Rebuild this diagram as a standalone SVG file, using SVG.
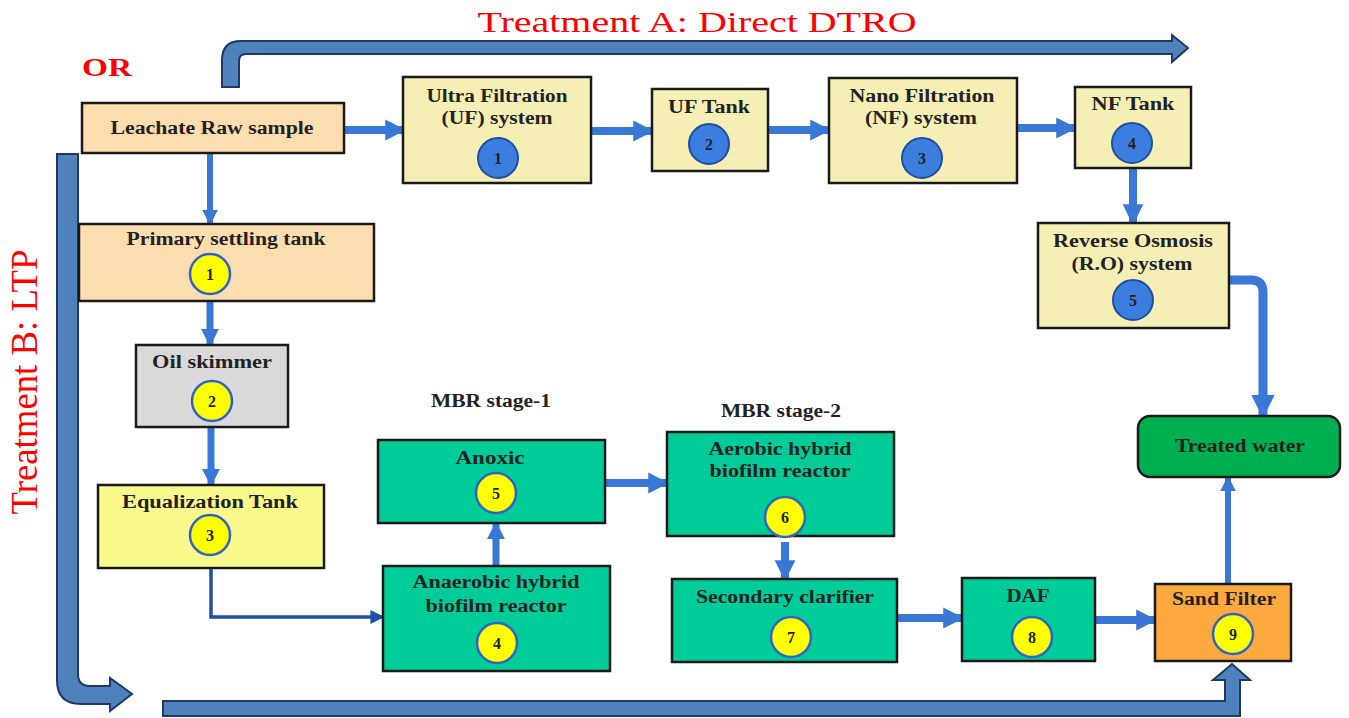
<svg xmlns="http://www.w3.org/2000/svg" width="1349" height="718" viewBox="0 0 1349 718">
<defs>
<style>
.box{stroke:#1a1a1a;stroke-width:2.5}
.peach{fill:#FCDDB0}
.cream{fill:#F5EFB6}
.grey{fill:#D9D9D9}
.yel{fill:#F9F98C}
.teal{fill:#00CC99}
.orange{fill:#FDA93E}
.tw{fill:#00B050}
.lbl{font-family:"Liberation Serif",serif;font-weight:bold;font-size:18.5px;fill:#222;text-anchor:middle}
.num{font-family:"Liberation Serif",serif;font-weight:bold;font-size:16px;fill:#222;text-anchor:middle}
.cb{fill:#3C7DE0;stroke:#1F4E9A;stroke-width:2}
.cy{fill:#FFFF00;stroke:#2F63C8;stroke-width:2.5}
.red{font-family:"Liberation Serif",serif;fill:#FF0000}
.flow{stroke:#3A78D8;fill:none}
.big{fill:#4F81BD;stroke:#1F3864;stroke-width:2;stroke-linejoin:miter}
</style>
<marker id="ah" viewBox="0 0 10 10" refX="9" refY="5" markerWidth="2.6" markerHeight="3.2" orient="auto" markerUnits="strokeWidth">
<path d="M0,0 L10,5 L0,10 z" fill="#3A78D8"/>
</marker>
<marker id="ah2" viewBox="0 0 10 10" refX="9" refY="5" markerWidth="4" markerHeight="4" orient="auto" markerUnits="strokeWidth">
<path d="M0,0 L10,5 L0,10 z" fill="#1F4FA8"/>
</marker>
</defs>
<rect width="1349" height="718" fill="#fff"/>

<text class="red" x="697" y="32" font-size="30" text-anchor="middle" textLength="439" lengthAdjust="spacingAndGlyphs">Treatment  A: Direct DTRO</text>
<text class="red" x="107" y="76" font-size="25" font-weight="bold" text-anchor="middle" textLength="50" lengthAdjust="spacingAndGlyphs">OR</text>
<text class="red" x="0" y="0" font-size="37" text-anchor="middle" textLength="265" lengthAdjust="spacingAndGlyphs" transform="translate(37,382) rotate(-90)">Treatment B: LTP</text>
<text class="lbl" x="491" y="407" font-size="17" textLength="120" lengthAdjust="spacingAndGlyphs">MBR stage-1</text>
<text class="lbl" x="781" y="417" font-size="17" textLength="120" lengthAdjust="spacingAndGlyphs">MBR stage-2</text>

<g id="connectors">
<path class="big" d="M222,87 L222,60 Q222,41 241,41 L1172,41 L1172,35 L1188,48 L1172,62 L1172,54 L246,54 Q239,54 239,61 L239,87 Z"/>
<path class="big" d="M57,154 L57,680 Q57,704 81,704 L110,704 L110,711 L132,694 L110,678 L110,686 L90,686 Q78,686 78,674 L78,154 Z"/>
<path class="big" d="M163,701 L1225,701 L1225,680 L1213,680 L1232,664 L1250,680 L1240,680 L1240,716 L163,716 Z"/>

<path class="flow" stroke-width="8" marker-end="url(#ah)" d="M344,130 L404,130"/>
<path class="flow" stroke-width="8" marker-end="url(#ah)" d="M591,131 L652,131"/>
<path class="flow" stroke-width="8" marker-end="url(#ah)" d="M768,130 L829,130"/>
<path class="flow" stroke-width="8" marker-end="url(#ah)" d="M1017,128 L1075,128"/>
<path class="flow" stroke-width="8" marker-end="url(#ah)" d="M1133,168 L1133,223"/>
<path class="flow" stroke-width="9" marker-end="url(#ah)" d="M1229,280 L1251,280 Q1263,280 1263,292 L1263,416"/>
<path class="flow" stroke-width="6" marker-end="url(#ah)" d="M210,153 L210,224"/>
<path class="flow" stroke-width="7" marker-end="url(#ah)" d="M210,301 L210,345"/>
<path class="flow" stroke-width="7" marker-end="url(#ah)" d="M211,427 L211,485"/>
<path d="M211,568 L211,617 L383,617" fill="none" stroke="#1F4FA8" stroke-width="3.5" marker-end="url(#ah2)"/>
<path class="flow" stroke-width="7" marker-end="url(#ah)" d="M496,566 L496,523"/>
<path class="flow" stroke-width="8" marker-end="url(#ah)" d="M605,483 L667,483"/>
<path class="flow" stroke-width="8" marker-end="url(#ah)" d="M785,542 L785,579"/>
<path class="flow" stroke-width="8" marker-end="url(#ah)" d="M897,618 L962,618"/>
<path class="flow" stroke-width="8" marker-end="url(#ah)" d="M1095,620 L1155,620"/>
<path class="flow" stroke-width="6" marker-end="url(#ah)" d="M1228,584 L1228,477"/>
</g>

<g id="n-leachate">
<rect class="box peach" x="82" y="103" width="262" height="50"/>
<text class="lbl" x="212" y="134" textLength="203" lengthAdjust="spacingAndGlyphs">Leachate Raw sample</text>
</g>
<g id="n-uf">
<rect class="box cream" x="403" y="77" width="188" height="106"/>
<text class="lbl" x="497" y="102" textLength="141" lengthAdjust="spacingAndGlyphs">Ultra Filtration</text>
<text class="lbl" x="497" y="124" textLength="111" lengthAdjust="spacingAndGlyphs">(UF) system</text>
<circle class="cb" cx="498" cy="158" r="20"/><text class="num" x="498" y="164">1</text>
</g>
<g id="n-uftank">
<rect class="box cream" x="652" y="89" width="116" height="82"/>
<text class="lbl" x="709" y="113" textLength="82" lengthAdjust="spacingAndGlyphs">UF Tank</text>
<circle class="cb" cx="709" cy="144" r="20"/><text class="num" x="709" y="150">2</text>
</g>
<g id="n-nf">
<rect class="box cream" x="829" y="78" width="188" height="105"/>
<text class="lbl" x="922" y="102" textLength="145" lengthAdjust="spacingAndGlyphs">Nano Filtration</text>
<text class="lbl" x="921" y="124" textLength="112" lengthAdjust="spacingAndGlyphs">(NF) system</text>
<circle class="cb" cx="922" cy="158" r="20"/><text class="num" x="922" y="164">3</text>
</g>
<g id="n-nftank">
<rect class="box cream" x="1075" y="87" width="116" height="81"/>
<text class="lbl" x="1133" y="110" textLength="83" lengthAdjust="spacingAndGlyphs">NF Tank</text>
<circle class="cb" cx="1132" cy="143" r="20"/><text class="num" x="1132" y="149">4</text>
</g>
<g id="n-ro">
<rect class="box cream" x="1038" y="223" width="191" height="105"/>
<text class="lbl" x="1133" y="247" textLength="160" lengthAdjust="spacingAndGlyphs">Reverse Osmosis</text>
<text class="lbl" x="1132" y="270" textLength="121" lengthAdjust="spacingAndGlyphs">(R.O) system</text>
<circle class="cb" cx="1133" cy="300" r="20"/><text class="num" x="1133" y="306">5</text>
</g>
<g id="n-treated">
<rect class="box tw" x="1138" y="416" width="202" height="61" rx="12"/>
<text class="lbl" x="1240" y="452" textLength="130" lengthAdjust="spacingAndGlyphs">Treated water</text>
</g>
<g id="n-primary">
<rect class="box peach" x="79" y="224" width="295" height="77"/>
<text class="lbl" x="226" y="245" textLength="199" lengthAdjust="spacingAndGlyphs">Primary settling tank</text>
<circle class="cy" cx="210" cy="274" r="20"/><text class="num" x="210" y="280">1</text>
</g>
<g id="n-oil">
<rect class="box grey" x="136" y="345" width="152" height="82"/>
<text class="lbl" x="212" y="368" textLength="120" lengthAdjust="spacingAndGlyphs">Oil skimmer</text>
<circle class="cy" cx="212" cy="401" r="20"/><text class="num" x="212" y="407">2</text>
</g>
<g id="n-eq">
<rect class="box yel" x="98" y="485" width="226" height="83"/>
<text class="lbl" x="210" y="508" textLength="176" lengthAdjust="spacingAndGlyphs">Equalization Tank</text>
<circle class="cy" cx="210" cy="535" r="20"/><text class="num" x="210" y="541">3</text>
</g>
<g id="n-anaerobic">
<rect class="box teal" x="383" y="566" width="227" height="105"/>
<text class="lbl" x="496" y="588" textLength="167" lengthAdjust="spacingAndGlyphs">Anaerobic hybrid</text>
<text class="lbl" x="496" y="612" textLength="141" lengthAdjust="spacingAndGlyphs">biofilm reactor</text>
<circle class="cy" cx="497" cy="643" r="20"/><text class="num" x="497" y="649">4</text>
</g>
<g id="n-anoxic">
<rect class="box teal" x="378" y="440" width="227" height="83"/>
<text class="lbl" x="490" y="464" textLength="69" lengthAdjust="spacingAndGlyphs">Anoxic</text>
<circle class="cy" cx="496" cy="493" r="20"/><text class="num" x="496" y="499">5</text>
</g>
<g id="n-aerobic">
<rect class="box teal" x="667" y="432" width="227" height="104"/>
<text class="lbl" x="780" y="455" textLength="143" lengthAdjust="spacingAndGlyphs">Aerobic hybrid</text>
<text class="lbl" x="780" y="477" textLength="141" lengthAdjust="spacingAndGlyphs">biofilm reactor</text>
<circle class="cy" cx="785" cy="517" r="20"/><text class="num" x="785" y="523">6</text>
</g>
<g id="n-secondary">
<rect class="box teal" x="672" y="579" width="225" height="83"/>
<text class="lbl" x="785" y="603" textLength="178" lengthAdjust="spacingAndGlyphs">Secondary clarifier</text>
<circle class="cy" cx="791" cy="637" r="20"/><text class="num" x="791" y="643">7</text>
</g>
<g id="n-daf">
<rect class="box teal" x="962" y="578" width="133" height="83"/>
<text class="lbl" x="1028" y="602" textLength="43" lengthAdjust="spacingAndGlyphs">DAF</text>
<circle class="cy" cx="1032" cy="637" r="20"/><text class="num" x="1032" y="643">8</text>
</g>
<g id="n-sand">
<rect class="box orange" x="1155" y="584" width="136" height="77"/>
<text class="lbl" x="1224" y="605" textLength="104" lengthAdjust="spacingAndGlyphs">Sand Filter</text>
<circle class="cy" cx="1233" cy="634" r="20"/><text class="num" x="1233" y="640">9</text>
</g>
</svg>
